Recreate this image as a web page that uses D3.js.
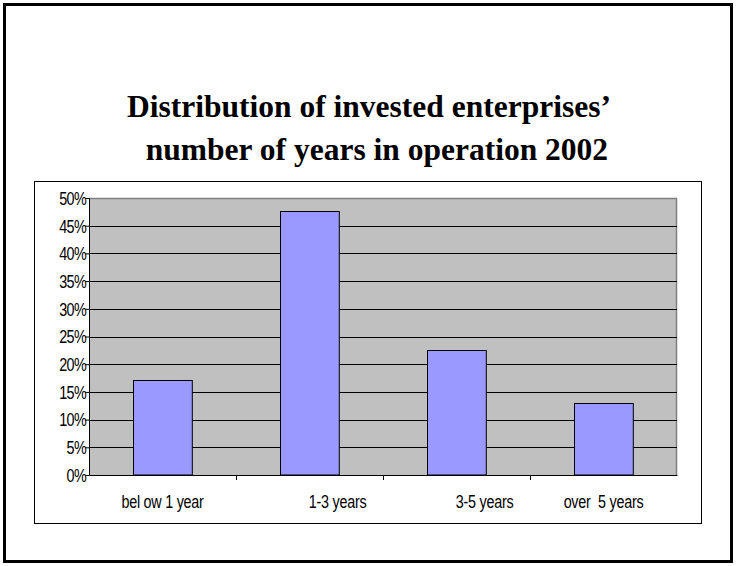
<!DOCTYPE html>
<html>
<head>
<meta charset="utf-8">
<script src="https://cdn.jsdelivr.net/npm/d3@7"></script>
<style>
  html, body { margin: 0; padding: 0; background: #fff; }
  svg { display: block; }
  .tick text { font-family: "Liberation Sans", Arial, sans-serif; white-space: pre; }
</style>
</head>
<body>
<svg id="chart" width="736" height="566"></svg>
<script>
// Share of invested enterprises by years in operation, 2002
const categories = ["bel ow 1 year", "               1-3 years", "               3-5 years", "over  5 years"];
const shares = [0.172, 0.476, 0.225, 0.13];
const yTicks = [0, 0.05, 0.10, 0.15, 0.20, 0.25, 0.30, 0.35, 0.40, 0.45, 0.50];
const titleLines = ["Distribution of invested enterprises\u2019", " number of years in operation 2002"];

const svg = d3.select("#chart");
const W = 736, H = 566;
const labelScale = 0.82; // condensed look for axis labels
const labelSize = 17.5;

// page frame
svg.append("rect")
  .attr("x", 4.5).attr("y", 4.5)
  .attr("width", W - 9).attr("height", H - 9)
  .attr("fill", "#fff").attr("stroke", "#000").attr("stroke-width", 3);

// title
const title = svg.append("text")
  .attr("text-anchor", "middle")
  .attr("font-family", "'Liberation Serif', 'Times New Roman', serif")
  .attr("font-weight", "bold")
  .attr("font-size", 31.5)
  .attr("fill", "#000")
  .style("white-space", "pre");
title.selectAll("tspan").data(titleLines).join("tspan")
  .attr("x", (d, i) => 369 + i * 4)
  .attr("y", (d, i) => 117 + i * 43)
  .text(d => d);

// chart area box
const box = { x: 34, y: 181, w: 667, h: 342 };
svg.append("rect")
  .attr("x", box.x + 0.5).attr("y", box.y + 0.5)
  .attr("width", box.w).attr("height", box.h)
  .attr("fill", "#fff").attr("stroke", "#000").attr("stroke-width", 1);

// plot area
const plot = { left: 89, right: 677, top: 198, bottom: 475 };

const x = d3.scaleBand()
  .domain(categories)
  .range([plot.left, plot.right])
  .paddingInner(0.6)
  .paddingOuter(0.3);

const y = d3.scaleLinear()
  .domain([0, 0.5])
  .range([plot.bottom, plot.top]);

svg.append("rect")
  .attr("x", plot.left).attr("y", plot.top)
  .attr("width", plot.right - plot.left).attr("height", plot.bottom - plot.top)
  .attr("fill", "#c0c0c0");

// plot border (top and right)
svg.append("path")
  .attr("d", `M${plot.left},${plot.top + 0.5}H${plot.right - 0.5}V${plot.bottom}`)
  .attr("fill", "none").attr("stroke", "#808080").attr("stroke-width", 1.5);

// gridlines
svg.append("g")
  .selectAll("line")
  .data(yTicks.filter(t => t > 0 && t < 0.5))
  .join("line")
  .attr("x1", plot.left).attr("x2", plot.right)
  .attr("y1", d => Math.round(y(d)) + 0.5).attr("y2", d => Math.round(y(d)) + 0.5)
  .attr("stroke", "#000").attr("stroke-width", 1);

// bars
svg.append("g")
  .selectAll("rect")
  .data(categories.map((c, i) => ({ c, v: shares[i] })))
  .join("rect")
  .attr("x", d => Math.round(x(d.c)) + 0.5)
  .attr("y", d => Math.round(y(d.v)) + 0.5)
  .attr("width", x.bandwidth())
  .attr("height", d => plot.bottom - Math.round(y(d.v)) - 0.5)
  .attr("fill", "#9999ff")
  .attr("stroke", "#000").attr("stroke-width", 1);

// y axis
const yAxis = svg.append("g")
  .attr("transform", `translate(${plot.left},0)`)
  .call(d3.axisLeft(y).tickValues(yTicks).tickFormat(d3.format(".0%")).tickSize(4).tickPadding(0));
yAxis.select(".domain").attr("stroke", "#000");
yAxis.selectAll(".tick line").attr("stroke", "#000");
yAxis.selectAll(".tick text")
  .attr("font-size", labelSize).attr("fill", "#000")
  .attr("letter-spacing", -0.8)
  .attr("x", -3 / labelScale)
  .attr("dy", "0.36em")
  .attr("transform", `scale(${labelScale},1)`);

// x axis with ticks between categories
const xAxis = svg.append("g")
  .attr("transform", `translate(0,${plot.bottom})`)
  .call(d3.axisBottom(x).tickSize(0).tickPadding(21));
xAxis.select(".domain").attr("stroke", "#000");
xAxis.selectAll(".tick text")
  .attr("font-size", labelSize).attr("fill", "#000")
  .attr("letter-spacing", -0.3)
  .attr("transform", `scale(${labelScale},1)`);

const step = x.step();
svg.append("g")
  .selectAll("line")
  .data(categories.slice(1))
  .join("line")
  .attr("x1", d => Math.round(x(d) - (step - x.bandwidth()) / 2) + 0.5)
  .attr("x2", d => Math.round(x(d) - (step - x.bandwidth()) / 2) + 0.5)
  .attr("y1", plot.bottom).attr("y2", plot.bottom + 5)
  .attr("stroke", "#000");
</script>
</body>
</html>
